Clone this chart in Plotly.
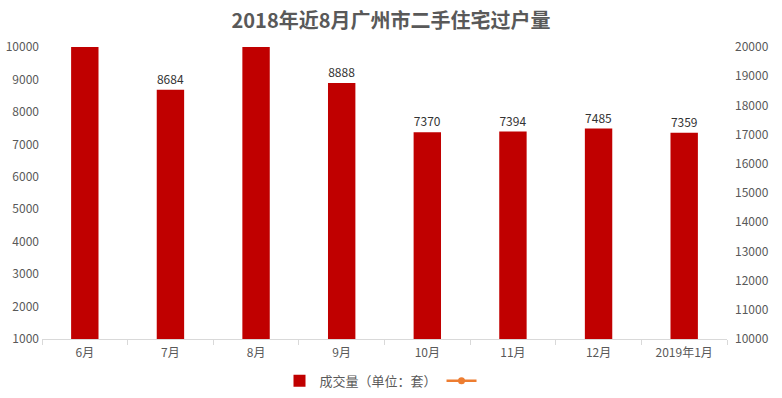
import plotly.graph_objects as go

categories = ["6月", "7月", "8月", "9月", "10月", "11月", "12月", "2019年1月"]
deals = [10420, 8684, 10380, 8888, 7370, 7394, 7485, 7359]
line_values = [None] * 8
left_ticks = [1000, 2000, 3000, 4000, 5000, 6000, 7000, 8000, 9000, 10000]
right_ticks = [10000, 11000, 12000, 13000, 14000, 15000, 16000, 17000, 18000, 19000, 20000]

y_min, y_max = 1000, 10000
labels = [str(v) if v <= y_max else "" for v in deals]

fig = go.Figure()
fig.add_trace(go.Bar(
    x=categories, y=deals, name="成交量（单位：套）",
    marker=dict(color="#C00000", line=dict(width=0)),
    width=0.32,
    text=labels, textposition="outside",
    textfont=dict(size=12, color="#333333", family="Noto Sans CJK SC"),
    cliponaxis=True,
))
fig.add_trace(go.Scatter(
    x=categories, y=line_values, name=" ",
    mode="lines+markers", yaxis="y2",
    line=dict(color="#ED7D31", width=2.5),
    marker=dict(color="#ED7D31", size=7),
))

fig.update_layout(
    width=782, height=398,
    margin=dict(l=42, r=55, t=47, b=59, autoexpand=False),
    paper_bgcolor="white", plot_bgcolor="white",
    font=dict(family="Noto Sans CJK SC", size=12, color="#595959"),
    title=dict(text="<b>2018年近8月广州市二手住宅过户量</b>", x=0.5, xanchor="center",
               y=0.947, yanchor="middle",
               font=dict(size=20, color="#595959", family="Noto Sans CJK SC")),
    showlegend=True,
    legend=dict(orientation="h", x=0.5, xanchor="center", yref="container", y=0.043,
                yanchor="middle", font=dict(size=13, color="#595959")),
    xaxis=dict(type="category", showline=True, linecolor="#D9D9D9", linewidth=1,
               ticks="outside", tickson="boundaries", ticklen=5, tickcolor="#D9D9D9",
               ticklabelstandoff=3,
               showgrid=False, tickfont=dict(size=12, color="#595959")),
    yaxis=dict(range=[y_min, y_max], tickvals=left_ticks, tickformat="d", showgrid=False,
               showline=False, zeroline=False, ticks="", ticklabelstandoff=2,
               tickfont=dict(size=12, color="#595959")),
    yaxis2=dict(range=[10000, 20000], tickvals=right_ticks, tickformat="d", overlaying="y",
                side="right", showgrid=False, showline=False, zeroline=False, ticks="",
                ticklabelstandoff=7, tickfont=dict(size=12, color="#595959")),
)

fig.write_html(
    "out.html",
    config={"displayModeBar": False},
    post_script="document.body.style.margin='0';document.body.style.overflow='hidden';",
)
